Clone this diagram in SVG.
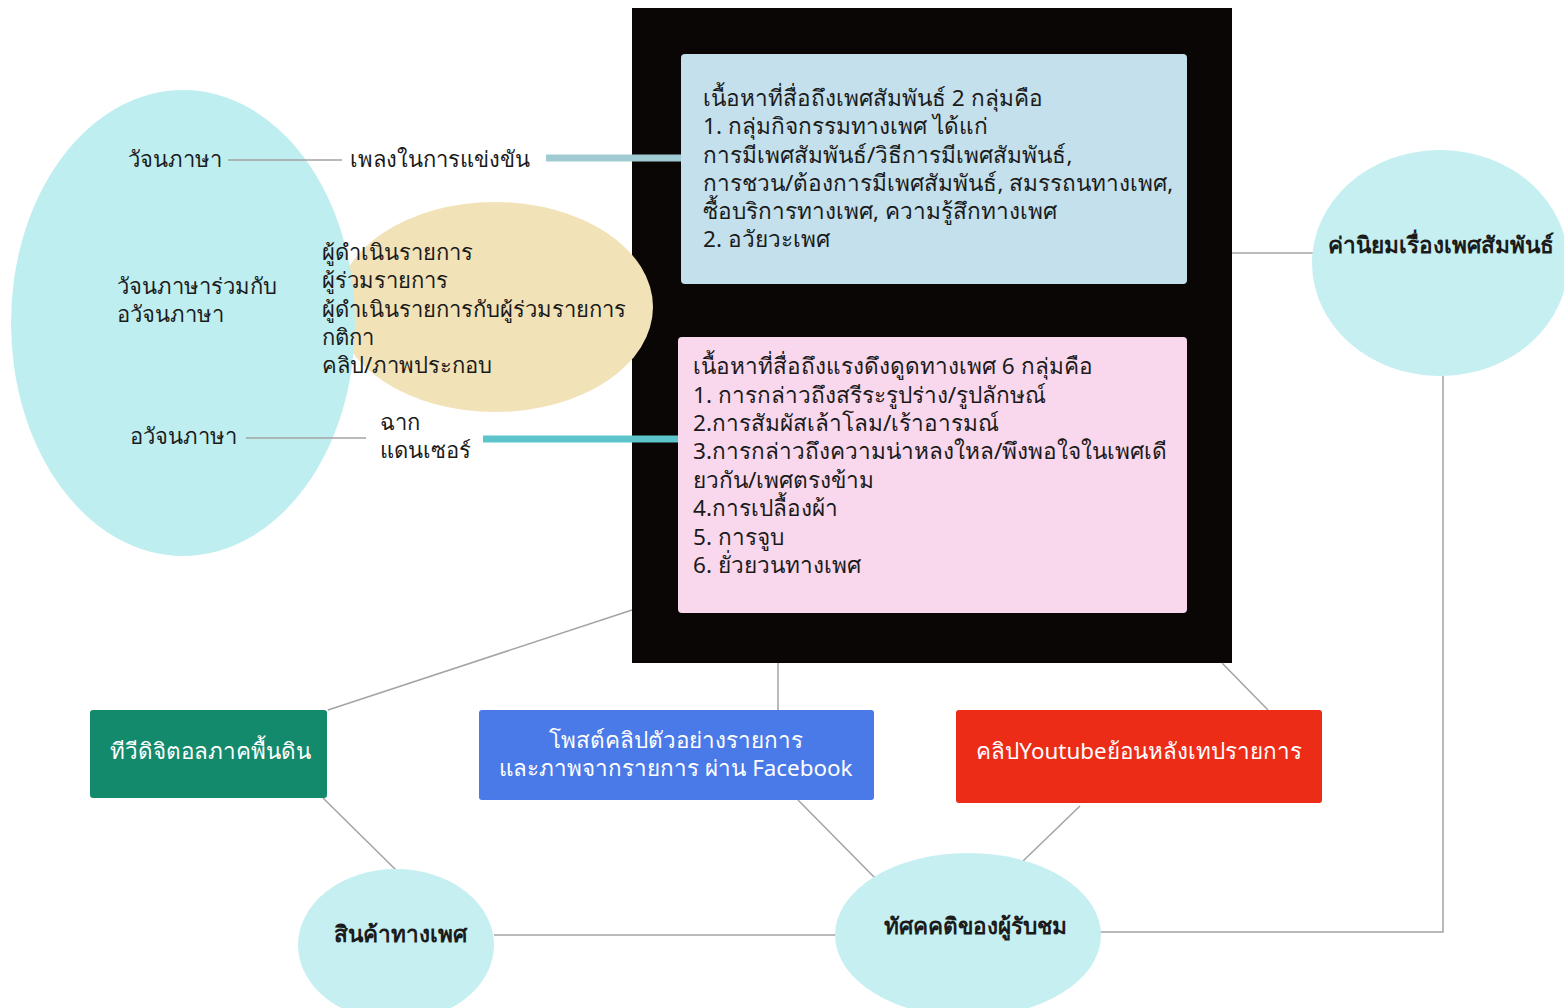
<svg xmlns="http://www.w3.org/2000/svg" width="1564" height="1008" viewBox="0 0 1564 1008">
<style>
text{font-family:"Noto Sans","DejaVu Sans",sans-serif;fill:#1b1b1b;}
.t{font-size:22px;}
.bx{font-size:22.6px;}
.b{font-size:22.6px;font-weight:600;}
.w{font-size:22.4px;fill:#ffffff;}
.ln{stroke:#a3a3a3;stroke-width:1.5;fill:none;}
.cy{fill:#c6eff1;}
</style>
<rect width="1564" height="1008" fill="#ffffff"/>
<g id="black-panel">
<rect x="632" y="8" width="600" height="655" fill="#0a0605"/>
</g>
<g id="beige-ellipse">
<ellipse cx="495" cy="307" rx="158" ry="105" fill="#f1e2b7"/>
</g>
<g id="left-ellipse">
<ellipse cx="183" cy="323" rx="172" ry="233" fill="#bfeef0"/>
<text class="t" x="128" y="167">วัจนภาษา</text>
<text class="t" x="117" y="294">วัจนภาษาร่วมกับ</text>
<text class="t" x="117" y="322">อวัจนภาษา</text>
<text class="t" x="130" y="444">อวัจนภาษา</text>
</g>
<g id="connectors">
<line class="ln" x1="228" y1="160" x2="342" y2="160"/>
<line class="ln" x1="246" y1="438" x2="366" y2="438"/>
<line x1="546" y1="158" x2="681" y2="158" stroke="#a0cbd2" stroke-width="7"/>
<line x1="483" y1="439" x2="678" y2="439" stroke="#5cc4cb" stroke-width="7"/>
<line class="ln" x1="1232" y1="253" x2="1313" y2="253"/>
<polyline class="ln" points="1443,376 1443,932 1100,932"/>
<line class="ln" x1="632" y1="610" x2="328" y2="710"/>
<line class="ln" x1="778" y1="663" x2="778" y2="710"/>
<line class="ln" x1="1222" y1="663" x2="1268" y2="710"/>
<line class="ln" x1="323" y1="798" x2="397" y2="871"/>
<line class="ln" x1="798" y1="800" x2="875" y2="878"/>
<line class="ln" x1="1080" y1="806" x2="1022" y2="862"/>
<line class="ln" x1="494" y1="935" x2="836" y2="935"/>
</g>
<g id="beige-labels">
<text class="t" x="322" y="260">ผู้ดำเนินรายการ</text>
<text class="t" x="322" y="288">ผู้ร่วมรายการ</text>
<text class="t" x="322" y="317">ผู้ดำเนินรายการกับผู้ร่วมรายการ</text>
<text class="t" x="322" y="345">กติกา</text>
<text class="t" x="322" y="373">คลิป/ภาพประกอบ</text>
</g>
<g id="song">
<text class="t" x="350" y="167">เพลงในการแข่งขัน</text>
</g>
<g id="scene">
<text class="t" x="380" y="430">ฉาก</text>
<text class="t" x="380" y="458">แดนเซอร์</text>
</g>
<g id="blue-content">
<rect x="681" y="54" width="506" height="230" rx="4" fill="#c3e0ec"/>
<text class="bx" x="703" y="106">เนื้อหาที่สื่อถึงเพศสัมพันธ์ 2 กลุ่มคือ</text>
<text class="bx" x="703" y="134">1. กลุ่มกิจกรรมทางเพศ ได้แก่</text>
<text class="bx" x="703" y="163">การมีเพศสัมพันธ์/วิธีการมีเพศสัมพันธ์,</text>
<text class="bx" x="703" y="191">การชวน/ต้องการมีเพศสัมพันธ์, สมรรถนทางเพศ,</text>
<text class="bx" x="703" y="219">ซื้อบริการทางเพศ, ความรู้สึกทางเพศ</text>
<text class="bx" x="703" y="247">2. อวัยวะเพศ</text>
</g>
<g id="pink-content">
<rect x="678" y="337" width="509" height="276" rx="4" fill="#f9d8ee"/>
<text class="bx" x="693" y="374">เนื้อหาที่สื่อถึงแรงดึงดูดทางเพศ 6 กลุ่มคือ</text>
<text class="bx" x="693" y="403">1. การกล่าวถึงสรีระรูปร่าง/รูปลักษณ์</text>
<text class="bx" x="693" y="431">2.การสัมผัสเล้าโลม/เร้าอารมณ์</text>
<text class="bx" x="693" y="459">3.การกล่าวถึงความน่าหลงใหล/พึงพอใจในเพศเดี</text>
<text class="bx" x="693" y="488">ยวกัน/เพศตรงข้าม</text>
<text class="bx" x="693" y="516">4.การเปลื้องผ้า</text>
<text class="bx" x="693" y="545">5. การจูบ</text>
<text class="bx" x="693" y="573">6. ยั่วยวนทางเพศ</text>
</g>
<g id="values">
<ellipse class="cy" cx="1440" cy="263" rx="128" ry="113"/>
<text class="b" x="1328" y="253">ค่านิยมเรื่องเพศสัมพันธ์</text>
</g>
<g id="tv">
<rect x="90" y="710" width="237" height="88" rx="3" fill="#148a6c"/>
<text class="w" x="210" y="759" text-anchor="middle">ทีวีดิจิตอลภาคพื้นดิน</text>
</g>
<g id="facebook">
<rect x="479" y="710" width="395" height="90" rx="3" fill="#4a7ae8"/>
<text class="w" x="676" y="748" text-anchor="middle">โพสต์คลิปตัวอย่างรายการ</text>
<text class="w" x="676" y="776" text-anchor="middle">และภาพจากรายการ ผ่าน Facebook</text>
</g>
<g id="youtube">
<rect x="956" y="710" width="366" height="93" rx="3" fill="#ec2c17"/>
<text class="w" x="1139" y="759" text-anchor="middle">คลิปYoutubeย้อนหลังเทปรายการ</text>
</g>
<g id="products">
<ellipse class="cy" cx="396" cy="945" rx="98" ry="76"/>
<text class="b" x="400" y="942" text-anchor="middle">สินค้าทางเพศ</text>
</g>
<g id="audience">
<ellipse class="cy" cx="968" cy="935" rx="133" ry="82"/>
<text class="b" x="975" y="934" text-anchor="middle">ทัศคคติของผู้รับชม</text>
</g>
</svg>
